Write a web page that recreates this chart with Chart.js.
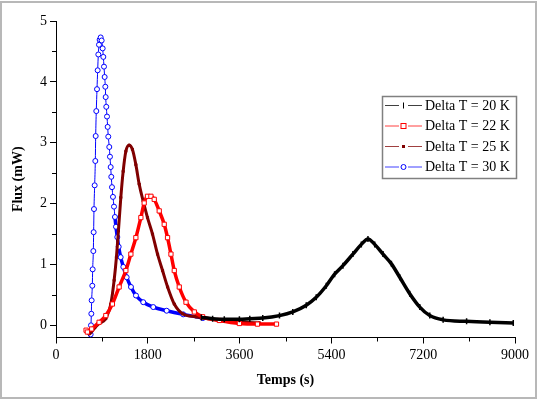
<!DOCTYPE html>
<html>
<head>
<meta charset="utf-8">
<script src="https://cdn.jsdelivr.net/npm/chart.js@4/dist/chart.umd.min.js"></script>
<style>
  html, body { margin: 0; padding: 0; background: #fff; }
  #wrap { width: 540px; height: 400px; position: relative; }
</style>
</head>
<body>
<div id="wrap"><canvas id="fluxChart" width="540" height="400"></canvas></div>
<script>
// ===== DATA =====
const seriesLabels = ['Delta T = 20 K', 'Delta T = 22 K', 'Delta T = 25 K', 'Delta T = 30 K'];
const xTicks = [0, 1800, 3600, 5400, 7200, 9000];
const yTicks = [0, 1, 2, 3, 4, 5];

// Delta T = 20 K
const time20 = [2850, 3071, 3300, 3596, 3800, 4054, 4382, 4643, 4907, 5103, 5300, 5463, 5626, 5822, 5987, 6117, 6249, 6412, 6577, 6740, 6936, 7133, 7329, 7591, 8051, 8508, 8966];
const flux20 = [0.13, 0.11, 0.10, 0.10, 0.11, 0.12, 0.16, 0.22, 0.33, 0.46, 0.65, 0.84, 0.98, 1.17, 1.33, 1.42, 1.33, 1.17, 1.01, 0.79, 0.52, 0.30, 0.16, 0.09, 0.065, 0.05, 0.04];

// Delta T = 22 K
const time22 = [590, 615, 700, 845, 977, 1106, 1238, 1370, 1468, 1566, 1664, 1729, 1794, 1861, 1926, 2024, 2122, 2187, 2254, 2319, 2417, 2549, 2712, 2875, 3203, 3596, 3950, 4323];
const flux22 = [-0.08, -0.11, -0.06, 0.05, 0.16, 0.35, 0.63, 0.90, 1.17, 1.44, 1.77, 2.01, 2.12, 2.12, 2.07, 1.88, 1.66, 1.44, 1.17, 0.90, 0.63, 0.38, 0.22, 0.14, 0.08, 0.03, 0.02, 0.02];

// Delta T = 25 K
const time25 = [584, 648, 760, 845, 977, 1075, 1140, 1185, 1224, 1271, 1317, 1370, 1434, 1499, 1566, 1631, 1710, 1794, 1892, 1991, 2089, 2188, 2319, 2482, 2745, 3203, 3694, 3990];
const flux25 = [-0.08, -0.14, -0.04, 0.03, 0.11, 0.35, 0.74, 1.12, 1.55, 2.10, 2.53, 2.86, 2.96, 2.89, 2.64, 2.32, 2.04, 1.77, 1.50, 1.17, 0.90, 0.63, 0.35, 0.19, 0.14, 0.08, 0.05, 0.04];

// Delta T = 30 K
const time30 = [679, 686, 693, 699, 712, 719, 732, 738, 745, 758, 771, 778, 790, 804, 817, 830, 843, 856, 876, 895, 915, 928, 941, 954, 967, 974, 986, 1000, 1013, 1025, 1045, 1058, 1072, 1084, 1098, 1117, 1137, 1156, 1176, 1202, 1229, 1268, 1320, 1386, 1470, 1568, 1711, 1907, 2170, 2495, 2880];
const flux30 = [-0.15, 0.00, 0.19, 0.41, 0.65, 0.92, 1.22, 1.53, 1.91, 2.30, 2.70, 3.11, 3.52, 3.88, 4.19, 4.45, 4.61, 4.69, 4.73, 4.68, 4.55, 4.41, 4.25, 4.08, 3.92, 3.75, 3.59, 3.43, 3.26, 3.10, 2.93, 2.77, 2.60, 2.44, 2.27, 2.11, 1.95, 1.78, 1.62, 1.45, 1.29, 1.12, 0.96, 0.79, 0.63, 0.49, 0.38, 0.30, 0.24, 0.18, 0.12];

const toPoints = (xs, ys) => xs.map((x, i) => ({ x: x, y: ys[i] }));

// ===== STYLES =====
const colors = ['#000000', '#ff0000', '#800000', '#0000ff'];
const serif = "'Liberation Serif', 'DejaVu Serif', serif";

// ===== PLUGINS =====
const frameAndMinorTicks = {
    id: 'frameAndMinorTicks',
    afterDraw(chart) {
        const ctx = chart.ctx;
        const xs = chart.scales.x, ys = chart.scales.y;
        const area = chart.chartArea;
        ctx.save();
        // minor ticks
        ctx.strokeStyle = '#000';
        ctx.lineWidth = 1;
        ctx.beginPath();
        for (let v = 900; v < 9000; v += 1800) {
            const px = Math.round(xs.getPixelForValue(v)) + 0.5;
            ctx.moveTo(px, area.bottom);
            ctx.lineTo(px, area.bottom + 4);
        }
        for (let v = 0.5; v < 5; v += 1) {
            const py = Math.round(ys.getPixelForValue(v)) + 0.5;
            ctx.moveTo(area.left, py);
            ctx.lineTo(area.left - 4, py);
        }
        ctx.stroke();

        // legend box
        const bx = 382.5, by = 96.5, bw = 134, bh = 82;
        ctx.strokeStyle = '#808080';
        ctx.lineWidth = 1.5;
        ctx.strokeRect(bx, by, bw, bh);
        const rows = [105.5, 126, 146.5, 167];
        chart.data.datasets.forEach((ds, i) => {
            const y = rows[i];
            ctx.strokeStyle = ds.borderColor;
            ctx.globalAlpha = 0.75;
            ctx.lineWidth = 1;
            ctx.beginPath();
            ctx.moveTo(385, y); ctx.lineTo(399, y);
            ctx.moveTo(408, y); ctx.lineTo(422, y);
            ctx.stroke();
            ctx.globalAlpha = 1;
            const ps = ds.pointStyle;
            ctx.strokeStyle = ds.pointBorderColor;
            ctx.fillStyle = ds.pointBackgroundColor;
            ctx.lineWidth = 1;
            if (ps === 'line') {
                ctx.beginPath(); ctx.moveTo(403.5, y - 3); ctx.lineTo(403.5, y + 3); ctx.stroke();
            } else if (ps === 'circle') {
                ctx.beginPath(); ctx.arc(403.5, y, 2.5, 0, Math.PI * 2); ctx.fill(); ctx.stroke();
            } else if (ds.pointRadius < 2) {
                ctx.fillRect(402, y - 1.5, 3, 3);
            } else {
                ctx.fillRect(401, y - 2.5, 5, 5); ctx.strokeRect(401, y - 2.5, 5, 5);
            }
            ctx.fillStyle = '#000';
            ctx.font = '14px ' + serif;
            ctx.textBaseline = 'middle';
            ctx.textAlign = 'left';
            ctx.fillText(ds.label, 425, y + 0.5);
        });

        // outer frame
        ctx.strokeStyle = '#b8b8b8';
        ctx.lineWidth = 2;
        ctx.strokeRect(1, 2, 535, 396);
        ctx.restore();
    }
};

// ===== CHART =====
document.addEventListener('DOMContentLoaded', function() {
    Chart.defaults.font.family = serif;
    Chart.defaults.color = '#000';

    const tickFont = { family: serif, size: 14 };
    const titleFont = { family: serif, size: 14, weight: 'bold' };

    const canvas = document.getElementById('fluxChart');
    new Chart(canvas, {
        type: 'line',
        data: {
            datasets: [
                {
                    label: seriesLabels[0],
                    data: toPoints(time20, flux20),
                    borderColor: colors[0],
                    borderWidth: 3.5,
                    pointStyle: 'line',
                    rotation: 90,
                    pointRadius: 3,
                    pointBorderWidth: 1.5,
                    pointBorderColor: colors[0],
                    pointBackgroundColor: colors[0],
                    cubicInterpolationMode: 'monotone'
                },
                {
                    label: seriesLabels[1],
                    data: toPoints(time22, flux22),
                    borderColor: colors[1],
                    borderWidth: 3.5,
                    pointStyle: 'rect',
                    pointRadius: 3,
                    pointBorderWidth: 1,
                    pointBorderColor: colors[1],
                    pointBackgroundColor: '#fff',
                    cubicInterpolationMode: 'monotone'
                },
                {
                    label: seriesLabels[2],
                    data: toPoints(time25, flux25),
                    borderColor: colors[2],
                    borderWidth: 3,
                    pointStyle: 'rect',
                    pointRadius: 1.5,
                    pointBorderWidth: 1,
                    pointBorderColor: colors[2],
                    pointBackgroundColor: colors[2],
                    cubicInterpolationMode: 'monotone'
                },
                {
                    label: seriesLabels[3],
                    data: toPoints(time30, flux30),
                    borderColor: colors[3],
                    borderWidth: 1,
                    segment: {
                        borderWidth: c => (c.p0.parsed.x > 1150 ? 3.5 : 1)
                    },
                    pointStyle: 'circle',
                    pointRadius: 2.5,
                    pointBorderWidth: 1,
                    pointBorderColor: colors[3],
                    pointBackgroundColor: '#fff',
                    cubicInterpolationMode: 'monotone'
                }
            ]
        },
        options: {
            responsive: false,
            animation: false,
            layout: { padding: { top: 21, right: 25, left: 0, bottom: 0 } },
            plugins: {
                legend: { display: false },
                tooltip: { enabled: false }
            },
            scales: {
                x: {
                    type: 'linear',
                    min: 0,
                    max: 9000,
                    afterFit: s => { s.height = 62.5; },
                    afterBuildTicks: s => { s.ticks = xTicks.map(v => ({ value: v })); },
                    grid: { drawOnChartArea: false, drawTicks: true, tickLength: 6, color: '#000' },
                    border: { display: true, color: '#000', width: 1 },
                    ticks: { padding: 3, maxRotation: 0, autoSkip: false, font: tickFont, color: '#000', callback: v => String(v) },
                    title: { display: true, text: 'Temps (s)', font: titleFont, color: '#000', padding: { top: 0, bottom: 11 } }
                },
                y: {
                    type: 'linear',
                    min: -0.2,
                    max: 5,
                    afterFit: s => { s.width = 56; },
                    afterBuildTicks: s => { s.ticks = yTicks.map(v => ({ value: v })); },
                    grid: { drawOnChartArea: false, drawTicks: true, tickLength: 6, color: '#000' },
                    border: { display: true, color: '#000', width: 1 },
                    ticks: { padding: 3, font: tickFont, color: '#000', callback: v => String(v) },
                    title: { display: true, text: 'Flux (mW)', font: titleFont, color: '#000', padding: { top: 10, bottom: 0 } }
                }
            }
        },
        plugins: [frameAndMinorTicks]
    });
});
</script>
</body>
</html>
